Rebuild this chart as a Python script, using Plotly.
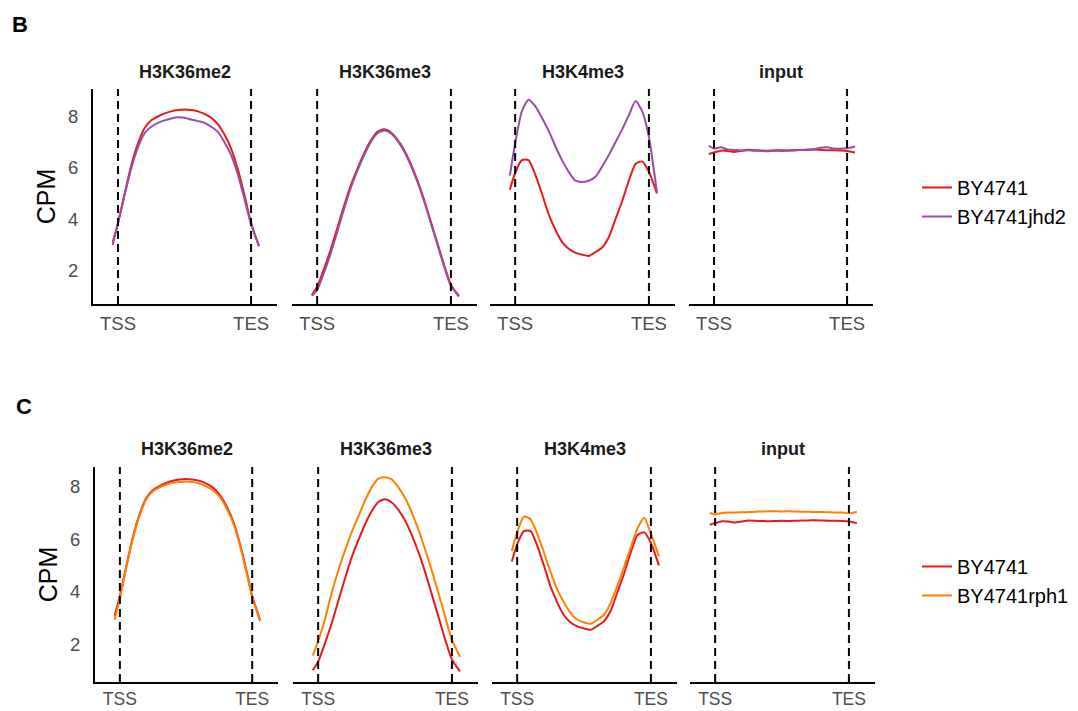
import plotly.graph_objects as go

W, H = 1078, 711

# ---------------- data ----------------
# metagene bin positions (TSS = 0, TES = 1000, scaled gene body)
X_BIN = [-40, 0, 50, 100, 150, 200, 250, 300, 350, 400, 450, 500,
         550, 600, 650, 700, 750, 800, 850, 900, 950, 1000, 1060]

MARKS = ["H3K36me2", "H3K36me3", "H3K4me3", "input"]
X_TICK_VALS = [0, 1000]
X_TICK_TEXT = ["TSS", "TES"]
Y_TICK_VALS = [2, 4, 6, 8]

# BY4741 (wild type)
wt_K36me2 = [3.10, 3.85, 5.00, 6.10, 6.95, 7.55, 7.85, 8.00, 8.12, 8.20, 8.25, 8.27,
             8.25, 8.20, 8.10, 7.95, 7.70, 7.30, 6.75, 5.95, 4.95, 3.85, 2.95]
wt_K36me3 = [1.05, 1.37, 2.05, 2.80, 3.65, 4.50, 5.30, 5.95, 6.55, 7.05, 7.40, 7.50,
             7.38, 7.10, 6.70, 6.15, 5.50, 4.75, 3.90, 3.05, 2.20, 1.45, 1.00]
wt_K4me3 = [5.15, 5.80, 6.30, 6.30, 5.75, 5.00, 4.20, 3.60, 3.12, 2.85, 2.70, 2.62,
            2.57, 2.72, 2.90, 3.30, 4.00, 4.70, 5.50, 6.15, 6.25, 5.85, 5.00]
wt_input = [6.54, 6.60, 6.67, 6.66, 6.62, 6.66, 6.70, 6.69, 6.68, 6.67, 6.68, 6.69,
            6.68, 6.69, 6.70, 6.70, 6.71, 6.70, 6.69, 6.69, 6.68, 6.66, 6.60]

# BY4741jhd2
jhd2_K36me2 = [3.00, 3.85, 4.95, 6.00, 6.80, 7.35, 7.60, 7.75, 7.85, 7.92, 7.97, 7.95,
               7.88, 7.82, 7.75, 7.60, 7.40, 7.00, 6.50, 5.75, 4.80, 3.80, 2.95]
jhd2_K36me3 = [1.02, 1.25, 1.90, 2.65, 3.50, 4.38, 5.20, 5.88, 6.48, 7.00, 7.35, 7.45,
               7.35, 7.06, 6.65, 6.10, 5.45, 4.70, 3.85, 3.00, 2.15, 1.40, 1.02]
jhd2_K4me3 = [5.70, 6.95, 8.20, 8.65, 8.40, 7.95, 7.45, 6.85, 6.30, 5.85, 5.50, 5.45,
              5.50, 5.65, 6.05, 6.50, 7.00, 7.50, 8.05, 8.60, 8.20, 7.20, 5.05]
jhd2_input = [6.86, 6.75, 6.80, 6.72, 6.70, 6.68, 6.69, 6.67, 6.66, 6.65, 6.67, 6.66,
              6.67, 6.68, 6.70, 6.71, 6.72, 6.78, 6.80, 6.75, 6.74, 6.76, 6.83]

# BY4741rph1
rph1_K36me2 = [2.95, 3.75, 4.95, 6.05, 6.90, 7.50, 7.80, 7.95, 8.05, 8.12, 8.15, 8.17,
               8.15, 8.10, 8.00, 7.85, 7.62, 7.22, 6.68, 5.90, 4.90, 3.80, 2.90]
rph1_K36me3 = [1.60, 2.15, 2.95, 3.95, 4.80, 5.55, 6.25, 6.85, 7.45, 7.95, 8.28, 8.33,
               8.25, 7.95, 7.55, 7.00, 6.35, 5.60, 4.80, 3.95, 3.05, 2.20, 1.55]
rph1_K4me3 = [5.55, 6.25, 6.85, 6.75, 6.20, 5.50, 4.75, 4.10, 3.60, 3.20, 2.95, 2.85,
              2.80, 2.95, 3.15, 3.60, 4.25, 4.95, 5.70, 6.40, 6.80, 6.20, 5.35]
rph1_input = [6.98, 6.93, 6.98, 7.00, 7.00, 7.01, 7.02, 7.03, 7.04, 7.05, 7.05, 7.04,
              7.05, 7.04, 7.03, 7.03, 7.02, 7.02, 7.01, 7.00, 7.00, 6.97, 7.03]

WT_SERIES = [wt_K36me2, wt_K36me3, wt_K4me3, wt_input]
JHD2_SERIES = [jhd2_K36me2, jhd2_K36me3, jhd2_K4me3, jhd2_input]
RPH1_SERIES = [rph1_K36me2, rph1_K36me3, rph1_K4me3, rph1_input]

# ---------------- style ----------------
RED = "#E41A1C"
PURPLE = "#984EA3"
ORANGE = "#FF7F00"
FONT = "Liberation Sans, Arial, Helvetica, sans-serif"
GREY = "#4D4D4D"


def pxx(p):
    return p / W


def pxy(p):
    return 1 - p / H


rows = [
    dict(tag="B", tag_pos=(20, 25), mutant="BY4741jhd2", mcolor=PURPLE,
         mseries=JHD2_SERIES, legend="legend", legend_top=168,
         xdoms=[(93, 277), (292, 477), (490, 675), (689, 873)],
         ydom=(89, 304), yrange=[0.70, 9.07], strip_y=72, xlab_size=18.5, xlab_off=2),
    dict(tag="C", tag_pos=(24, 406), mutant="BY4741rph1", mcolor=ORANGE,
         mseries=RPH1_SERIES, legend="legend2", legend_top=547,
         xdoms=[(95, 278), (293, 478), (492, 677), (690, 875)],
         ydom=(467, 682), yrange=[0.60, 8.72], strip_y=449, xlab_size=17.5, xlab_off=0),
]

XRANGE = [-188, 1195]

fig = go.Figure()
layout = {}
shapes = []
annotations = []

k = 0
for r, row in enumerate(rows):
    first_k = k + 1
    for j, mark in enumerate(MARKS):
        k += 1
        xname = "xaxis" if k == 1 else f"xaxis{k}"
        yname = "yaxis" if k == 1 else f"yaxis{k}"
        xref = "x" if k == 1 else f"x{k}"
        yref = "y" if k == 1 else f"y{k}"
        first_yref = "y" if first_k == 1 else f"y{first_k}"

        fig.add_trace(go.Scatter(
            x=X_BIN, y=WT_SERIES[j], mode="lines", name="BY4741",
            line=dict(color=RED, width=2, shape="spline", smoothing=0.6),
            xaxis=xref, yaxis=yref, legend=row["legend"],
            legendgroup=f"wt{r}", showlegend=(j == 0)))
        fig.add_trace(go.Scatter(
            x=X_BIN, y=row["mseries"][j], mode="lines", name=row["mutant"],
            line=dict(color=row["mcolor"], width=2, shape="spline", smoothing=0.6),
            xaxis=xref, yaxis=yref, legend=row["legend"],
            legendgroup=f"mut{r}", showlegend=(j == 0)))

        xd = row["xdoms"][j]
        layout[xname] = dict(
            domain=[pxx(xd[0]), pxx(xd[1])], anchor=yref, range=XRANGE,
            showgrid=False, zeroline=False, showline=True, linecolor="black",
            linewidth=2, tickvals=X_TICK_VALS, ticktext=X_TICK_TEXT, ticks="",
            ticklabelstandoff=row["xlab_off"], automargin=False,
            tickfont=dict(family=FONT, size=row["xlab_size"], color=GREY))
        ydict = dict(
            domain=[pxy(row["ydom"][1]), pxy(row["ydom"][0])], anchor=xref,
            range=row["yrange"], showgrid=False, zeroline=False,
            tickvals=Y_TICK_VALS, ticks="", automargin=False,
            tickfont=dict(family=FONT, size=18.5, color=GREY))
        if j == 0:
            ydict.update(showline=True, linecolor="black", linewidth=2,
                         showticklabels=True, ticklabelstandoff=9,
                         title=dict(text="CPM", standoff=5,
                                    font=dict(family=FONT, size=25, color="black")))
        else:
            ydict.update(showline=False, showticklabels=False, matches=first_yref)
        layout[yname] = ydict

        for xv in X_TICK_VALS:
            shapes.append(dict(type="line", xref=xref, yref=f"{yref} domain",
                               x0=xv, x1=xv, y0=0, y1=1,
                               line=dict(color="black", width=2, dash="8px,5px")))

        annotations.append(dict(
            text=f"<b>{mark}</b>", xref=f"{xref} domain", x=0.5,
            yref="paper", y=pxy(row["strip_y"]), showarrow=False,
            xanchor="center", yanchor="middle",
            font=dict(family=FONT, size=18, color="#1A1A1A")))

    annotations.append(dict(
        text=f"<b>{row['tag']}</b>", xref="paper", yref="paper",
        x=pxx(row["tag_pos"][0]), y=pxy(row["tag_pos"][1]), showarrow=False,
        xanchor="center", yanchor="middle",
        font=dict(family=FONT, size=22, color="black")))

legend_style = dict(xref="paper", yref="paper", xanchor="left", yanchor="top",
                    font=dict(family=FONT, size=20, color="black"),
                    bgcolor="rgba(0,0,0,0)", tracegroupgap=1, traceorder="normal")

fig.update_layout(
    width=W, height=H, margin=dict(l=0, r=0, t=0, b=0, autoexpand=False),
    paper_bgcolor="white", plot_bgcolor="white",
    shapes=shapes, annotations=annotations,
    legend=dict(x=pxx(917), y=pxy(rows[0]["legend_top"]), **legend_style),
    legend2=dict(x=pxx(917), y=pxy(rows[1]["legend_top"]), **legend_style),
    **layout,
)

fig.write_html("out.html",
               config={"displayModeBar": False},
               post_script="document.body.style.margin='0';"
                           "document.body.style.overflow='hidden';")
